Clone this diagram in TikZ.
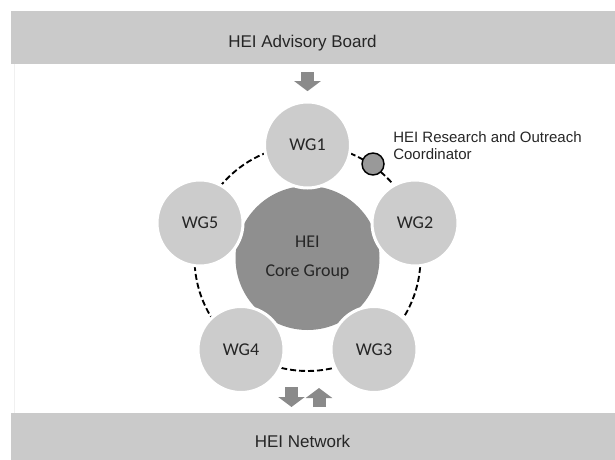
\documentclass[tikz,border=0pt]{standalone}
\usepackage{fontspec}
\setmainfont{Liberation Sans}
\newfontfamily\calibri{Carlito}
\usetikzlibrary{arrows.meta}
\definecolor{barfill}{HTML}{CACACA}
\definecolor{wgfill}{HTML}{CCCCCC}
\definecolor{corefill}{HTML}{8F8F8F}
\definecolor{arrowfill}{HTML}{8A8A8A}
\definecolor{coordfill}{HTML}{999999}

\begin{document}
\begin{tikzpicture}[x=0.75pt, y=-0.75pt]
    \tikzstyle{bar} = [fill=barfill]
    \tikzstyle{barlabel} = [anchor=base, inner sep=0pt, text=black!85, font=\fontsize{12.75}{15}\selectfont]
    \tikzstyle{wg} = [circle, fill=wgfill, draw=white, line width=2.25pt, minimum size=64.5pt, inner sep=0pt, text=black!85, font=\calibri\fontsize{13.5}{16}\selectfont]
    \tikzstyle{core} = [circle, fill=corefill, minimum size=108pt, inner sep=0pt, align=center, text=black!85, font=\calibri\fontsize{13.5}{21.75}\selectfont]
    \tikzstyle{ring} = [line width=1.4pt, dash pattern=on 4.5pt off 2.25pt]
    \tikzstyle{coord} = [circle, fill=coordfill, draw=black, line width=1.1pt, minimum size=16.5pt, inner sep=0pt]
    \tikzstyle{bigarrow} = [arrowfill, line width=9.75pt, -{Triangle[width=19.5pt, length=7.5pt]}]
    \useasboundingbox (0,0) rectangle (615,460);

    % board and network bars
    \fill[bar] (11,11) rectangle (615,64);
    \fill[bar] (11,413) rectangle (615,460);
    \draw[black!6, line width=0.75pt] (14,64) -- (14,413);
    \node[barlabel] (board) at (302.5,47.5) {HEI Advisory Board};
    \node[barlabel] (net) at (302.5,447) {HEI Network};

    % core group and the ring of working groups
    \node[core] (core) at (307.5,258) {HEI\\Core Group};
    \draw[ring] (core.center) circle[radius=113];
    \node[wg] (wg1) at (307.5,145) {WG1};
    \node[wg] (wg2) at (415,223) {WG2};
    \node[wg] (wg3) at (374,349.5) {WG3};
    \node[wg] (wg4) at (241,349.5) {WG4};
    \node[wg] (wg5) at (200,223) {WG5};

    \node[coord] (coord) at (373,164) {};
    \node[anchor=north west, inner sep=0pt, align=left, text=black!85, font=\fontsize{11.25}{13}\selectfont] (coordlabel) at (393,131.5) {HEI Research and Outreach\\Coordinator};

    % arrows in and out
    \draw[bigarrow, shorten <=15.75pt, shorten >=7pt] (wg1 |- board.south) -- (wg1);
    \coordinate (gate) at (305,413);
    \draw[bigarrow] ([shift={(-13.5,-26)}]gate) -- ([shift={(-13.5,-6)}]gate);
    \draw[bigarrow] ([shift={(14,-6)}]gate) -- ([shift={(14,-25)}]gate);
\end{tikzpicture}
\end{document}
